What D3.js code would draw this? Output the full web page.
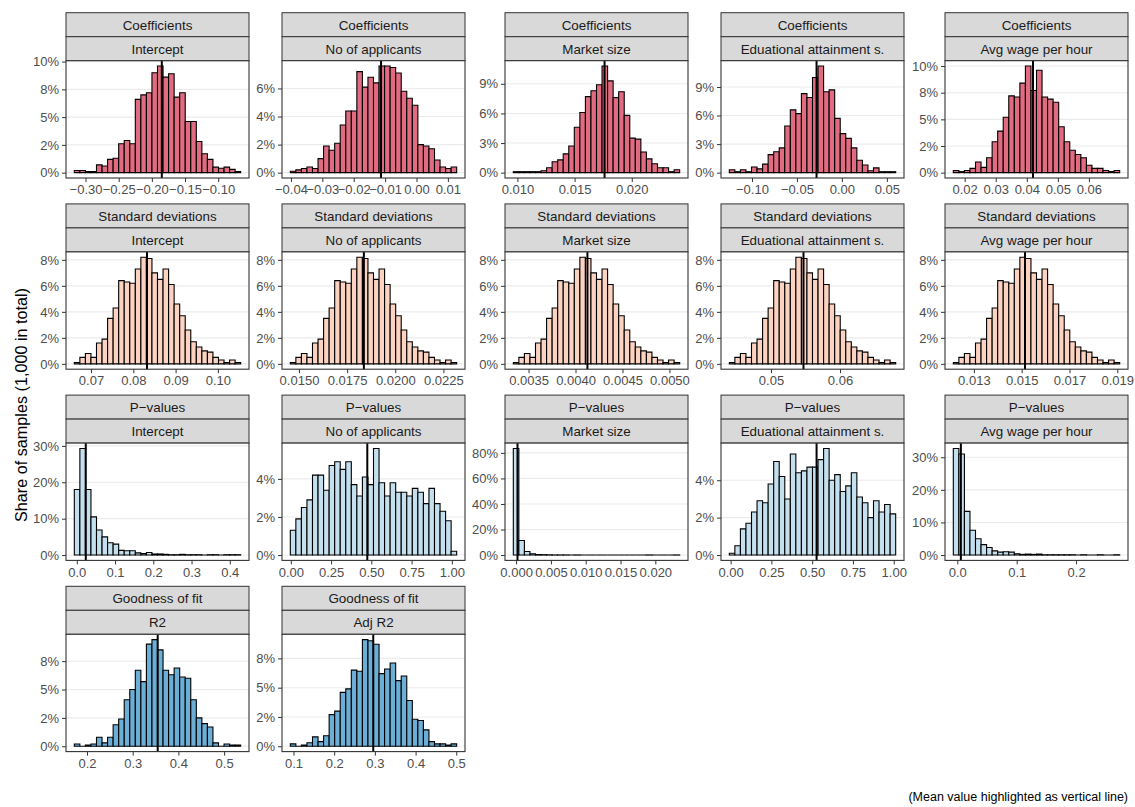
<!DOCTYPE html>
<html>
<head>
<meta charset="utf-8">
<script src="https://d3js.org/d3.v7.min.js"></script>
<style>
    body { margin: 0; background: #fff; }
    svg { display: block; font-family: "Liberation Sans", Arial, Helvetica, sans-serif; }
</style>
</head>
<body>
<div id="chart-container"></div>
<script>
// shares of the 1,000 samples per bin (percent), 30 bins per panel
const coefIntercept = [0.2, 0.2, 0.1, 0.1, 0.7, 0.6, 1.2, 1.3, 2.6, 2.9, 2.6, 6.6, 7.0, 7.2, 9.0, 9.6, 8.6, 8.9, 6.8, 7.2, 4.6, 4.6, 2.8, 1.7, 1.2, 0.5, 0.4, 0.5, 0.3, 0.1];
const coefApplicants = [0.1, 0.2, 0.3, 0.4, 0.3, 1.0, 1.9, 1.6, 2.1, 3.4, 4.4, 4.4, 7.2, 6.1, 6.8, 6.4, 7.6, 7.6, 7.5, 7.1, 5.8, 5.3, 4.8, 2.0, 1.9, 1.7, 0.9, 0.4, 0.3, 0.4];
const coefMarket = [0.1, 0.1, 0.1, 0.1, 0.1, 0.2, 0.5, 1.1, 1.3, 1.9, 2.7, 4.6, 6.1, 7.7, 8.3, 8.9, 10.8, 9.3, 7.6, 8.2, 5.8, 3.5, 3.4, 2.1, 1.4, 0.9, 0.5, 0.5, 0.1, 0.3];
const coefEducation = [0.3, 0.1, 0.3, 0.1, 0.6, 0.4, 0.9, 1.9, 2.2, 2.6, 4.9, 6.6, 6.2, 8.3, 7.9, 10.0, 11.2, 8.5, 8.7, 5.7, 4.1, 3.6, 2.6, 1.3, 0.8, 0.2, 0.5, 0.1, 0.1, 0.1];
const coefWage = [0.2, 0.1, 0.2, 0.4, 1.0, 0.5, 1.4, 2.9, 3.9, 5.2, 7.2, 7.1, 8.4, 10.0, 7.7, 9.6, 7.1, 6.9, 6.6, 4.3, 2.9, 2.1, 1.7, 1.4, 0.7, 0.4, 0.4, 0.2, 0.1, 0.2];
// the five standard deviation panels share one shape
const sdShares = [0.1, 0.5, 0.8, 0.5, 1.6, 1.9, 3.5, 4.3, 6.4, 6.3, 6.2, 7.3, 8.2, 8.1, 7.0, 6.5, 7.3, 6.1, 4.6, 3.7, 2.6, 1.7, 1.3, 1.0, 0.9, 0.5, 0.3, 0.1, 0.3, 0.1];
const pIntercept = [18.0, 29.3, 18.0, 10.5, 6.9, 5.0, 3.4, 3.0, 1.3, 1.2, 1.2, 0.6, 0.4, 0.7, 0.3, 0.3, 0.2, 0.1, 0.1, 0.2, 0.1, 0.1, 0.1, 0.0, 0.1, 0.1, 0.0, 0.1, 0.1, 0.1];
const pApplicants = [1.3, 1.9, 2.5, 2.9, 4.2, 4.2, 3.4, 4.7, 4.9, 4.5, 4.9, 3.7, 3.1, 4.1, 3.7, 5.6, 3.8, 3.1, 3.8, 3.3, 3.3, 3.1, 3.5, 3.3, 2.7, 3.5, 2.7, 2.3, 1.8, 0.2];
const pMarket = [83.5, 11.4, 2.8, 1.0, 0.4, 0.3, 0.2, 0.1, 0.1, 0.1, 0.0, 0.1, 0.0, 0.0, 0.0, 0.0, 0.0, 0.0, 0.0, 0.0, 0.0, 0.0, 0.0, 0.0, 0.1, 0.0, 0.0, 0.0, 0.0, 0.1];
const pEducation = [0.1, 0.5, 1.4, 1.7, 2.3, 2.9, 2.8, 3.8, 5.0, 4.2, 3.0, 5.4, 4.4, 4.5, 4.7, 4.7, 5.1, 5.7, 4.0, 4.3, 3.4, 3.7, 4.4, 3.1, 2.8, 2.0, 2.9, 2.3, 2.7, 2.2];
const pWage = [32.7, 31.0, 13.4, 7.6, 5.0, 3.2, 2.3, 1.3, 0.9, 1.0, 0.9, 0.4, 0.2, 0.3, 0.2, 0.3, 0.1, 0.1, 0.1, 0.1, 0.1, 0.1, 0.0, 0.1, 0.0, 0.0, 0.1, 0.0, 0.0, 0.1];
const gofR2 = [0.2, 0.0, 0.1, 0.2, 0.8, 0.3, 0.8, 1.9, 2.4, 4.1, 5.0, 6.7, 5.7, 9.0, 9.4, 8.5, 6.7, 6.3, 6.9, 6.1, 6.0, 4.1, 2.5, 2.0, 1.7, 0.3, 0.0, 0.2, 0.1, 0.1];
const gofAdjR2 = [0.2, 0.0, 0.1, 0.3, 0.8, 0.4, 0.9, 2.7, 3.0, 4.6, 4.9, 6.5, 6.4, 9.1, 9.0, 8.7, 6.2, 6.6, 7.1, 5.6, 6.0, 3.9, 2.3, 2.2, 1.4, 0.4, 0.2, 0.2, 0.1, 0.2];

// one entry per panel, in facet order
const groups = [
    'Coefficients', 'Coefficients', 'Coefficients', 'Coefficients', 'Coefficients',
    'Standard deviations', 'Standard deviations', 'Standard deviations', 'Standard deviations', 'Standard deviations',
    'P\u2212values', 'P\u2212values', 'P\u2212values', 'P\u2212values', 'P\u2212values',
    'Goodness of fit', 'Goodness of fit'
];
const variables = [
    'Intercept', 'No of applicants', 'Market size', 'Eduational attainment s.', 'Avg wage per hour',
    'Intercept', 'No of applicants', 'Market size', 'Eduational attainment s.', 'Avg wage per hour',
    'Intercept', 'No of applicants', 'Market size', 'Eduational attainment s.', 'Avg wage per hour',
    'R2', 'Adj R2'
];
const panelShares = [
    coefIntercept, coefApplicants, coefMarket, coefEducation, coefWage,
    sdShares, sdShares, sdShares, sdShares, sdShares,
    pIntercept, pApplicants, pMarket, pEducation, pWage,
    gofR2, gofAdjR2
];
// lower and upper edge of the binned range
const binLo = [-0.3169, -0.0402, 0.00964, -0.1252, 0.01635, 0.06605, 0.01455, 0.003338, 0.04396, 0.01214, -0.0065, -0.003, -0.0004, -0.008, -0.0067, 0.1722, 0.0922];
const binHi = [-0.0661, 0.0128, 0.02419, 0.0598, 0.0699, 0.10539, 0.02319, 0.005109, 0.06807, 0.0191, 0.4285, 1.03, 0.0235, 1.012, 0.2734, 0.5363, 0.501];
const means = [-0.185, -0.0113, 0.01762, -0.0282, 0.042, 0.08324, 0.01837, 0.004127, 0.05471, 0.01514, 0.0235, 0.475, 0.0002, 0.527, 0.006, 0.3547, 0.296];
const xTicks = [
    [-0.30, -0.25, -0.20, -0.15, -0.10], [-0.04, -0.03, -0.02, -0.01, 0, 0.01], [0.010, 0.015, 0.020], [-0.10, -0.05, 0, 0.05], [0.02, 0.03, 0.04, 0.05, 0.06],
    [0.07, 0.08, 0.09, 0.10], [0.0150, 0.0175, 0.0200, 0.0225], [0.0035, 0.0040, 0.0045, 0.0050], [0.05, 0.06], [0.013, 0.015, 0.017, 0.019],
    [0, 0.1, 0.2, 0.3, 0.4], [0, 0.25, 0.5, 0.75, 1], [0, 0.005, 0.010, 0.015, 0.020], [0, 0.25, 0.5, 0.75, 1], [0, 0.1, 0.2],
    [0.2, 0.3, 0.4, 0.5], [0.1, 0.2, 0.3, 0.4, 0.5]
];
const xDigits = [2, 2, 3, 2, 2, 2, 4, 4, 2, 3, 1, 2, 3, 2, 1, 1, 1];
const yTicks = [
    [0, 2.5, 5, 7.5, 10], [0, 2, 4, 6], [0, 3, 6, 9], [0, 3, 6, 9], [0, 2.5, 5, 7.5, 10],
    [0, 2, 4, 6, 8], [0, 2, 4, 6, 8], [0, 2, 4, 6, 8], [0, 2, 4, 6, 8], [0, 2, 4, 6, 8],
    [0, 10, 20, 30], [0, 2, 4], [0, 20, 40, 60, 80], [0, 2, 4], [0, 10, 20, 30],
    [0, 2.5, 5, 7.5], [0, 2.5, 5, 7.5]
];

const groupFill = {
    'Coefficients': '#e16b80',
    'Standard deviations': '#fcd2c0',
    'P\u2212values': '#c4dfee',
    'Goodness of fit': '#6baed6'
};

const colLeft = [66, 282, 505, 721, 945];
const rowTop = [12.7, 203.9, 395.1, 586.3];
const panelW = 183;
const stripH = 24;
const panelH = 117.3;

// R rounds halves to even: 2.5% -> 2%, 7.5% -> 8%
const pctLabel = (d) => {
    const f = Math.floor(d);
    let r = Math.round(d);
    if (Math.abs(d - f - 0.5) < 1e-9) r = f % 2 === 0 ? f : f + 1;
    return `${r}%`;
};

const svg = d3
    .select('#chart-container')
    .append('svg')
    .attr('width', 1135)
    .attr('height', 807);

groups.forEach((group, i) => {
    const row = Math.floor(i / 5);
    const col = i % 5;
    const shares = panelShares[i];
    const lo = binLo[i];
    const hi = binHi[i];
    const binW = (hi - lo) / shares.length;
    const pad = (hi - lo) * 0.05;

    const g = svg
        .append('g')
        .attr('transform', `translate(${colLeft[col]},${rowTop[row]})`);

    [group, variables[i]].forEach((label, k) => {
        g.append('rect')
            .attr('x', 0)
            .attr('y', k * stripH)
            .attr('width', panelW)
            .attr('height', stripH)
            .attr('fill', '#d9d9d9')
            .attr('stroke', '#333333')
            .attr('stroke-width', 1);
        g.append('text')
            .attr('x', panelW / 2)
            .attr('y', k * stripH + stripH / 2)
            .attr('dy', '0.36em')
            .attr('text-anchor', 'middle')
            .attr('font-size', '13.4px')
            .attr('fill', '#1a1a1a')
            .text(label);
    });

    const panel = g.append('g').attr('transform', `translate(0,${2 * stripH})`);

    const xScale = d3
        .scaleLinear()
        .domain([lo - pad, hi + pad])
        .range([0, panelW]);
    const yMax = d3.max(shares);
    const yScale = d3
        .scaleLinear()
        .domain([-0.05 * yMax, 1.05 * yMax])
        .range([panelH, 0]);

    const xt = xTicks[i].filter(t => t >= lo - pad && t <= hi + pad);
    const yt = yTicks[i].filter(t => t <= 1.05 * yMax);

    panel.append('rect')
        .attr('width', panelW)
        .attr('height', panelH)
        .attr('fill', '#fff');

    panel.selectAll('line.grid')
        .data(yt)
        .join('line')
        .attr('class', 'grid')
        .attr('x1', 0)
        .attr('x2', panelW)
        .attr('y1', d => yScale(d))
        .attr('y2', d => yScale(d))
        .attr('stroke', '#ebebeb')
        .attr('stroke-width', 1.1);

    // paths rather than rects so that empty bins still show their outline
    panel.selectAll('path.bar')
        .data(shares)
        .join('path')
        .attr('class', 'bar')
        .attr('d', (d, k) => {
            const x0 = xScale(lo + k * binW);
            const x1 = xScale(lo + (k + 1) * binW);
            return `M${x0},${yScale(0)}V${yScale(d)}H${x1}V${yScale(0)}Z`;
        })
        .attr('fill', groupFill[group])
        .attr('stroke', '#000')
        .attr('stroke-width', 1.1)
        .attr('stroke-linejoin', 'miter');

    panel.append('line')
        .attr('x1', xScale(means[i]))
        .attr('x2', xScale(means[i]))
        .attr('y1', 0)
        .attr('y2', panelH)
        .attr('stroke', '#000')
        .attr('stroke-width', 2);

    panel.append('rect')
        .attr('width', panelW)
        .attr('height', panelH)
        .attr('fill', 'none')
        .attr('stroke', '#333333')
        .attr('stroke-width', 1.1);

    const xAxis = panel
        .append('g')
        .attr('transform', `translate(0,${panelH})`)
        .call(d3.axisBottom(xScale)
            .tickValues(xt)
            .tickFormat(d3.format(`.${xDigits[i]}f`))
            .tickSize(4)
            .tickPadding(3));
    const yAxis = panel
        .append('g')
        .call(d3.axisLeft(yScale)
            .tickValues(yt)
            .tickFormat(pctLabel)
            .tickSize(4)
            .tickPadding(3));

    [xAxis, yAxis].forEach(axis => {
        axis.select('.domain').remove();
        axis.attr('font-family', null).attr('font-size', null);
        axis.selectAll('.tick line').attr('stroke', '#333333');
        axis.selectAll('.tick text')
            .attr('fill', '#4d4d4d')
            .attr('font-size', '13px');
    });
});

svg.append('text')
    .attr('transform', 'translate(26.5,405) rotate(-90)')
    .attr('text-anchor', 'middle')
    .attr('font-size', '16.2px')
    .attr('fill', '#000')
    .text('Share of samples (1,000 in total)');

svg.append('text')
    .attr('x', 1128)
    .attr('y', 801)
    .attr('text-anchor', 'end')
    .attr('font-size', '12.5px')
    .attr('fill', '#000')
    .text('(Mean value highlighted as vertical line)');
</script>
</body>
</html>
